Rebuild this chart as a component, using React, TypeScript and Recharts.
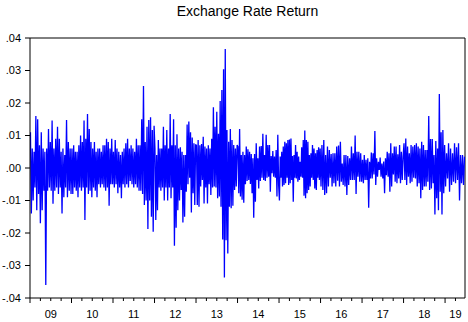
import React from 'react';
import { LineChart, Line, XAxis, YAxis, ReferenceLine } from 'recharts';

// Daily returns, in thousandths (10 = .01), one list per year
const r2009 = [11, -14, 6, -10, 5, -6, 16, -13, 15, -8, 7, -17, 11, -13, 6, -7, 5, -36, 6, -7, 12, -6, 8, -7, 14.6, -11, 6, -7, 9, -6, 12.7, -8, 9, -6, 5, -14, 6, -9, 4, -6, 14.8, -9, 8, -7, 6, -8];
const r2010 = [6, -8, 7, -6, 5, -7, 5, -9, 7, -6, 10, -7, 8, -6, 14.6, -16, 9, -6, 16.6, -8, 12, -7, 8, -9, 6, -6, 8, -7, 5, -9, 6, -5, 6, -6, 5, -5, 7, -6, 7, -7, 9, -6, 8, -11.6, 6, -5, 9, -5];
const r2011 = [5, -6, 8.6, -5, 6, -7.8, 5, -6, 4, -9.3, 5, -5, 6, -6, 7.6, -5, 9, -6, 6, -4, 7, -5, 6, -6, 5, -5, 9, -6, 7, -7, 7, -7, 15, -8, 25.2, -11.4, 8, -10, 12.7, -18.8, 14.8, -10, 15.6, -15, 11.7, -19.6, 13];
const r2012 = [6, -16, 4, -13, 8.6, -6, 6, -7, 6, -6, 12.7, -10, 7, -6, 11.7, -10, 6, -6, 16.6, -9.3, 7, -6, 15, -23.9, 7, -18.4, 10.4, -13, 6, -10, 6.4, -6.8, 5, -16.8, 4, -15, 4, -7.3, 13.4, -5, 14.3, -3, 11, -13.7, 9.4, -7.8, 7.6, -11.4, 7.1];
const r2013 = [7, -11.4, 8.6, -11.9, 7, -5.7, 7.4, -3.7, 9.6, -10.9, 6.6, -6, 6, -10.9, 7, -5, 6, -8.3, 9, -6, 18.7, -5.7, 12.7, -6, 17.3, -9.3, 10.5, -8.8, 20.6, -11.9, 24, -22, 30.4, -33.7, 36.6, -22.2, 11.7, -26.3, 8.1, -11.9, 12, -12.4, 8.6, -11.6, 7.1, -6.8, 6, -5.7, 7.1];
const r2014 = [6.6, -7.8, 12, -8.8, 4, -9.8, 5, -10.7, 4, -5, 6.6, -4, 5.8, -3.7, 5, -4.9, 4.3, -7.8, 3, -15.3, 4.3, -10.4, 7.6, -3.7, 3, -6.3, 6.6, -4, 6.8, -3, 10.5, -3.7, 4, -4, 10.2, -3, 7.1, -2.7, 7.1, -7.3, 3.7, -1.6, 5.2, -2.7, 3.5, -3, 5.5, -8.8, 10.2, -5.2];
const r2015 = [-10, 3.5, -3, 5, -5.7, 6.6, -5.2, 8.1, -4.7, 7.6, -3, 8.6, -5.2, 8.8, -4.7, 9.1, -3.7, 3.7, -10.4, 4, -3, 7.1, -3.2, 5, -4.2, 3.5, -3.7, 1.9, -2.7, 6.4, -3, 8.6, -8.5, 11.5, -9.3, 8.6, -7.8, 8.1, -6.8, 4, -5.7, 4.5, -3, 7.1, -3.7, 6, -6.3, 4.5, -6.8, 5.5, -3, 6.4, -3.7, 6];
const r2016 = [-5.7, 7.1, -6.8, 8.6, -8.3, 4, -7.8, 6.6, -5.7, 5.5, -3, 4.3, -5.7, 4.5, -4.7, 4.5, -5.7, 6.6, -3.9, 6.9, -5.7, 8.1, -4.2, 1.4, -5.2, 4, -5.7, 4, -8.3, 3.7, -5.2, 3, -3.7, 6.6, -3.7, 4.5, -3.7, 10, -8, 5, -2.7, 5, -4.2, 4.5, -4.2];
const r2017 = [2.5, -4.7, 4, -3.7, 2.5, -3.7, 3, -12.2, 1.9, -3.2, 4.8, -3.2, 4.5, -2, 11.4, -5.2, 3, -2.7, 1.9, -0.6, 3.2, -2.7, 1.4, -3.2, 2, -7.8, 3, -2.2, 5, -2.7, 4.5, -7.3, 7.6, -5.7, 4.5, -2, 6.6, -4.2, 6.6, -4.7, 4.2, -3.2, 7.1, -4.7, 5, -3.7, 3.5];
const r2018 = [7.6, -3.7, 9.1, -5.2, 6.6, -2.7, 4.5, -4.7, 7.1, -4.2, 6.6, -3, 7.1, -3.2, 7.6, -5.7, 6.6, -4.7, 6, -9.3, 8.1, -6.8, 7.1, -5.7, 5.5, -5.7, 5.5, -4.2, 16, -6.8, 8.9, -6.3, 8.9, -4.7, 4, -14.3, 8.3, -9.3, 6, -13, 22.8, -7.3, 11, -14.3, 11.7, -7.8, 7.1];
const r2019 = [-5.7, 4.5, -3.2, 7.6, -7.3, 6, -5.2, 4.5, -4.2, 7.6, -4.7, 6.4, -3.7, 7.6, -10, 4, -4.7, 4, -5.2, 3.5];

const years = [2009, 2010, 2011, 2012, 2013, 2014, 2015, 2016, 2017, 2018, 2019];
const returnsByYear = [r2009, r2010, r2011, r2012, r2013, r2014, r2015, r2016, r2017, r2018, r2019];
// 2019 only runs to about June
const lastYearShare = 0.48;

const yTicks = [-40, -30, -20, -10, 0, 10, 20, 30, 40];
const yTickLabels = ['-.04', '-.03', '-.02', '-.01', '.00', '.01', '.02', '.03', '.04'];

const xLabels = ['09', '10', '11', '12', '13', '14', '15', '16', '17', '18', '19'];
const xLabelAt = [2009.5, 2010.5, 2011.5, 2012.5, 2013.5, 2014.5, 2015.5, 2016.5, 2017.5, 2018.5, 2019.25];

const X_START = years[0];
const X_END = years[years.length - 1] + lastYearShare;
const FONT = '"Liberation Sans", Arial, sans-serif';

const data = years.flatMap((yr, k) => {
  const vals = returnsByYear[k];
  const span = k === years.length - 1 ? lastYearShare : 1;
  return vals.map((v, i) => ({ t: yr + ((i + 0.5) / vals.length) * span, r: v }));
});

const quarterTicks = years
  .flatMap((yr) => [0, 0.25, 0.5, 0.75].map((q) => yr + q))
  .filter((t) => t < X_END);

function DateTick({ x, y, payload }: any) {
  const v = payload.value as number;
  const isYear = Math.abs(v - Math.round(v)) < 1e-6;
  const li = xLabelAt.findIndex((p) => Math.abs(p - v) < 1e-6);
  return (
    <g>
      <line x1={x} y1={y} x2={x} y2={y + (isYear ? 5 : 3)} stroke="#000" />
      {li >= 0 && (
        <text x={x} y={y + 20} textAnchor="middle" fontSize={11} fontFamily={FONT} fill="#000">
          {xLabels[li]}
        </text>
      )}
    </g>
  );
}

export default function App() {
  return (
    <div style={{ position: 'absolute', left: 0, top: 0, width: 468, height: 322, background: '#fff', fontFamily: FONT }}>
      <div style={{ position: 'absolute', left: 30, width: 435, top: 3, textAlign: 'center', fontSize: 14, lineHeight: '16px', color: '#000' }}>
        Exchange Rate Return
      </div>
      <LineChart width={468} height={322} data={data} margin={{ top: 38, right: 3, bottom: 0, left: 0 }}>
        <XAxis
          dataKey="t"
          type="number"
          domain={[X_START, X_END]}
          allowDataOverflow
          ticks={quarterTicks}
          interval={0}
          tickSize={0}
          tickMargin={0}
          tickLine={false}
          tick={<DateTick />}
          axisLine={{ stroke: '#000' }}
          height={24}
        />
        <YAxis
          type="number"
          domain={[-40, 40]}
          ticks={yTicks}
          interval={0}
          width={30}
          tickSize={5}
          tickMargin={4}
          tickLine={{ stroke: '#000' }}
          axisLine={{ stroke: '#000' }}
          tick={{ fontSize: 11, fill: '#000', fontFamily: FONT }}
          tickFormatter={(v: number) => yTickLabels[yTicks.indexOf(v)]}
        />
        <ReferenceLine y={40} stroke="#000" />
        <ReferenceLine x={X_END} stroke="#000" />
        <Line
          type="linear"
          dataKey="r"
          stroke="#0000FF"
          strokeWidth={1.3}
          dot={false}
          isAnimationActive={false}
        />
      </LineChart>
    </div>
  );
}
